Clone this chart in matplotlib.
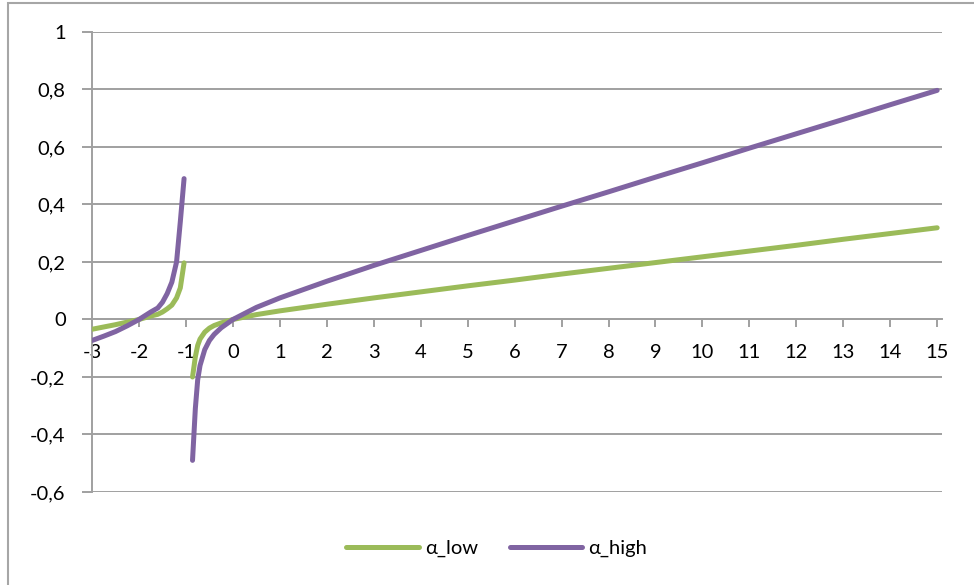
import numpy as np
import matplotlib
matplotlib.use('Agg')
import matplotlib.pyplot as plt
from matplotlib.patches import Rectangle
from matplotlib.ticker import FuncFormatter, MultipleLocator

plt.rcParams['font.family'] = ['Lato', 'DejaVu Sans']

# Rama izquierda (antes de la asíntota) y rama derecha
x_left = [-3, -2.75, -2.5, -2.25, -2, -1.75, -1.6, -1.5, -1.4, -1.3, -1.2, -1.12, -1.04]
high_left = [-0.073, -0.058, -0.042, -0.022, 0.0, 0.026, 0.04, 0.06, 0.09, 0.13, 0.2, 0.34, 0.49]
low_left = [-0.034, -0.026, -0.018, -0.009, 0.0, 0.012, 0.018, 0.026, 0.037, 0.05, 0.075, 0.11, 0.197]

x_right = [-0.86, -0.8, -0.75, -0.7, -0.6, -0.5, -0.4, -0.25, 0, 0.5, 1, 2, 3, 4, 5,
           6, 7, 8, 9, 10, 11, 12, 13, 14, 15]
high_right = [-0.49, -0.31, -0.21, -0.16, -0.105, -0.073, -0.052, -0.029, 0.0, 0.042,
              0.075, 0.133, 0.188, 0.24, 0.292, 0.343, 0.394, 0.444, 0.495, 0.545,
              0.596, 0.646, 0.696, 0.747, 0.797]
low_right = [-0.2, -0.13, -0.09, -0.068, -0.044, -0.03, -0.021, -0.012, 0.0, 0.017,
             0.03, 0.053, 0.075, 0.096, 0.117, 0.137, 0.158, 0.178, 0.198, 0.218,
             0.238, 0.258, 0.279, 0.299, 0.319]

x_all = x_left + [np.nan] + x_right
low_all = low_left + [np.nan] + low_right
high_all = high_left + [np.nan] + high_right

green = '#9BBB59'
purple = '#8064A2'
grid_c = '#A0A0A0'

fig = plt.figure(figsize=(9.74, 5.85), dpi=100)
ax = fig.add_axes([0.0945, 0.159, 0.8725, 0.7863])

ax.plot(x_all, low_all, color=green, lw=3.6, label='α_low', solid_capstyle='round', zorder=3)
ax.plot(x_all, high_all, color=purple, lw=3.6, label='α_high', solid_capstyle='round', zorder=4)

ax.set_xlim(-3, 15.1)
ax.set_ylim(-0.6, 1.0)
ax.xaxis.set_major_locator(MultipleLocator(1))
ax.yaxis.set_major_locator(MultipleLocator(0.2))

def fmt(v, pos):
    v = round(v, 2)
    if v == 0:
        return '0'
    return f'{v:g}'.replace('.', ',')

ax.yaxis.set_major_formatter(FuncFormatter(fmt))
ax.xaxis.set_major_formatter(FuncFormatter(lambda v, p: f'{int(round(v))}'))

ax.grid(axis='y', color=grid_c, lw=1.4)
ax.set_axisbelow(True)
for s in ['top', 'right']:
    ax.spines[s].set_visible(False)
ax.spines['bottom'].set_position(('data', 0))
ax.spines['bottom'].set_color(grid_c)
ax.spines['bottom'].set_linewidth(1.4)
ax.spines['left'].set_color(grid_c)
ax.spines['left'].set_linewidth(1.4)

ax.tick_params(axis='x', direction='out', length=6, width=1.4, color=grid_c,
               pad=12, labelsize=14.5)
ax.tick_params(axis='y', direction='out', length=7, width=1.4, color=grid_c,
               pad=12, labelsize=14.5)

fig.legend(loc='center', bbox_to_anchor=(0.51, 0.063), ncol=2, frameon=False,
           fontsize=14.5, handlelength=3.6, handletextpad=0.3, columnspacing=1.6)

fig.add_artist(Rectangle((0.0082, -0.2), 1.2, 1.1949, transform=fig.transFigure,
                         fill=False, edgecolor='#A6A6A6', lw=1.5, clip_on=False))

fig.savefig('out.png', dpi=100)
